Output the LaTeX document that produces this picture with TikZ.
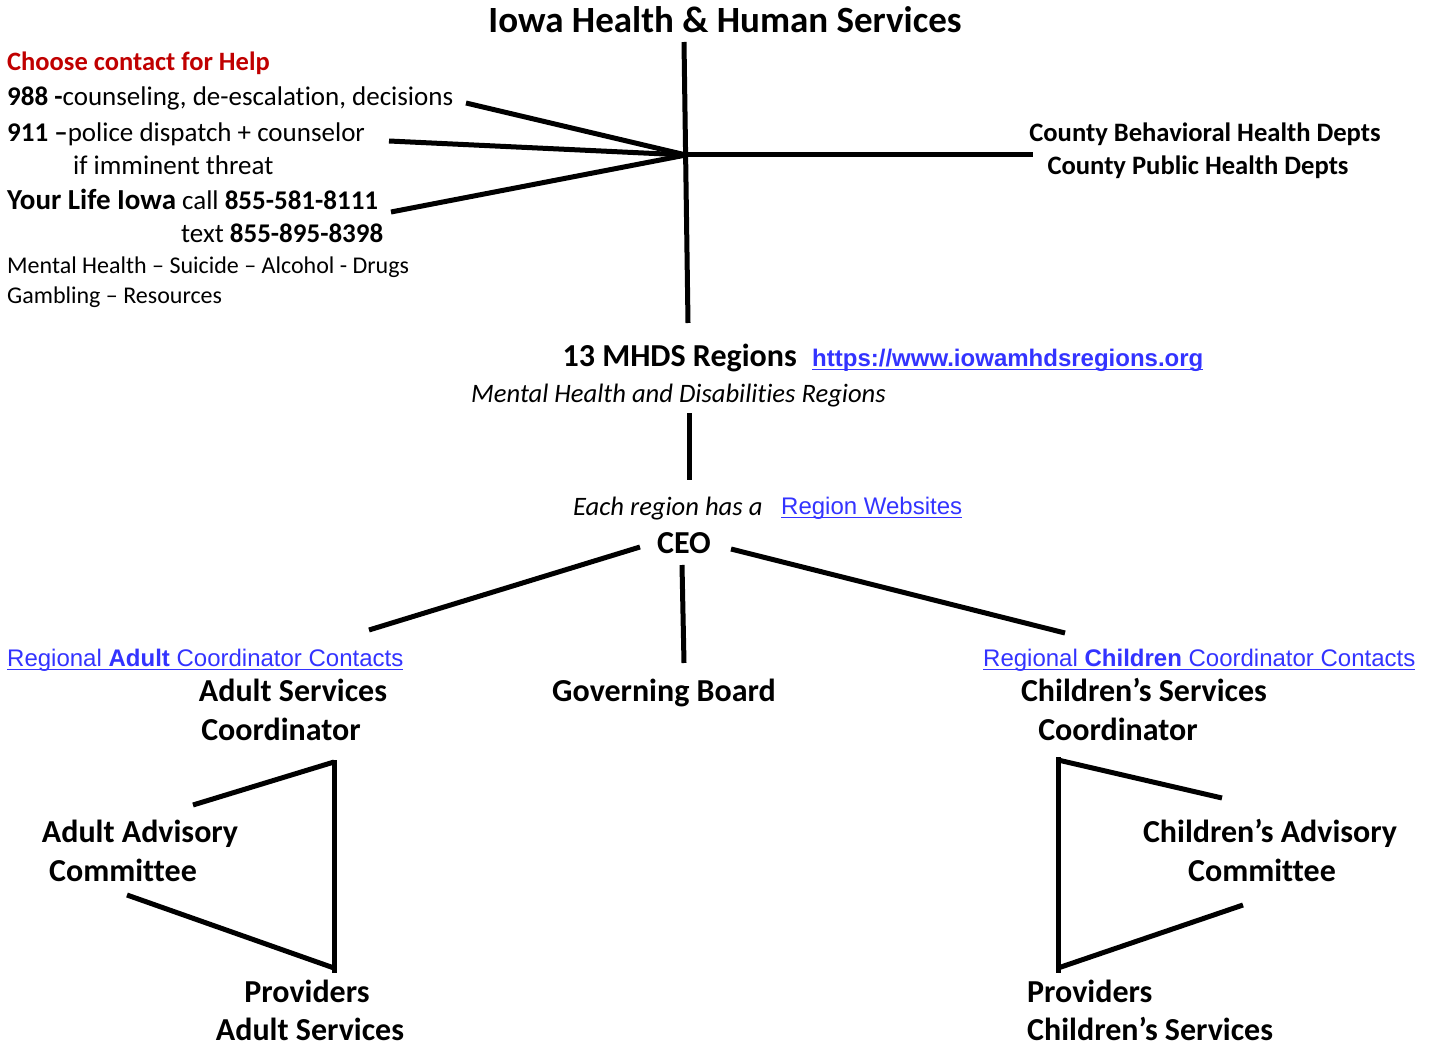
\documentclass[tikz,border=0pt]{standalone}
\usepackage{fontspec}
\setmainfont{Carlito}[Ligatures=NoCommon]
\newfontfamily\arialf{Liberation Sans}
\definecolor{hred}{RGB}{192,0,0}
\definecolor{lnkblue}{RGB}{51,51,255}
\newcommand\ulnk[1]{\setbox0\hbox{#1}\rlap{\rule[-4pt]{\wd0}{1.8pt}}\box0}
\tikzset{
  conn/.style={line width=5pt},
  big/.style={font=\bfseries\fontsize{32}{38}\selectfont, inner sep=0pt, anchor=mid},
  ttl/.style={font=\bfseries\fontsize{37}{44}\selectfont, inner sep=0pt, anchor=mid},
  side/.style={font=\fontsize{27}{32}\selectfont, inner sep=0pt, anchor=mid west},
  small/.style={font=\fontsize{24}{29}\selectfont, inner sep=0pt, anchor=mid west},
  cty/.style={font=\bfseries\fontsize{26.6}{31}\selectfont, inner sep=0pt, anchor=mid},
  ital/.style={font=\itshape\fontsize{26.6}{31}\selectfont, inner sep=0pt},
  link/.style={font=\arialf\fontsize{24}{29}\selectfont, text=lnkblue, inner sep=0pt},
}
\begin{document}
\begin{tikzpicture}[x=1pt,y=-1pt]
\useasboundingbox (0,0) rectangle (1433,1046);
% title and top hub
\node[ttl] (title) at (725,30) {Iowa Health \& Human Services};
\coordinate (hub) at (686,155);
\coordinate (vtop) at (684,42);
\coordinate (vbot) at (688,323);
\coordinate (hright) at (1033,155);
\coordinate (l988) at (466,103);
\coordinate (l911) at (389,141);
\coordinate (lyli) at (391,212);
\draw[conn] (vtop) -- (vbot);
\draw[conn] (hub) -- (hright);
\draw[conn] (l988) -- (hub);
\draw[conn] (l911) -- (hub);
\draw[conn] (lyli) -- (hub);
% left contact block
\node[side, text=hred, font=\bfseries\fontsize{26.5}{31}\selectfont] (choose) at (7,68) {Choose contact for Help};
\node[side] (t988) at (7,103) {\textbf{988 -}counseling, de-escalation, decisions};
\node[side] (t911) at (7,139) {\textbf{911 –}police dispatch + counselor};
\node[side] (t911b) at (73,172) {if imminent threat};
\node[side] (tyli) at (7,207) {{\bfseries\fontsize{29}{34}\selectfont Your Life Iowa} call \textbf{855-581-8111}};
\node[side] (tylib) at (181,240) {text \textbf{855-895-8398}};
\node[small] (tmh) at (7,271) {Mental Health – Suicide – Alcohol - Drugs};
\node[small] (tgam) at (7,301) {Gambling – Resources};
% county
\node[cty] (cbh) at (1205,139) {County Behavioral Health Depts};
\node[cty] (cph) at (1198,172) {County Public Health Depts};
% regions
\node[big, anchor=mid east] (mhds) at (797,364) {13 MHDS Regions};
\node[link, anchor=mid west, font=\arialf\bfseries\fontsize{24}{29}\selectfont] (mhdslink) at (812,364) {\ulnk{https://www.iowamhdsregions.org}};
\node[ital, anchor=mid west] (mhdsit) at (471,400) {Mental Health and Disabilities Regions};
\coordinate (r1) at (689,413);
\coordinate (r2) at (689,480);
\draw[conn] (r1) -- (r2);
\node[ital, anchor=mid west] (each) at (573,513) {Each region has a};
\node[link, anchor=mid west] (rweb) at (781,512) {\ulnk{Region Websites}};
\node[big] (ceo) at (684,551) {CEO};
\coordinate (c1) at (640,547);
\coordinate (c1e) at (369,630);
\coordinate (c2) at (682,565);
\coordinate (c2e) at (684,663);
\coordinate (c3) at (731,549);
\coordinate (c3e) at (1065,633);
\draw[conn] (c1) -- (c1e);
\draw[conn] (c2) -- (c2e);
\draw[conn] (c3) -- (c3e);
% second level
\node[link, anchor=mid west] (adlink) at (7,664) {\ulnk{Regional \textbf{Adult} Coordinator Contacts}};
\node[link, anchor=mid west] (chlink) at (983,664) {\ulnk{Regional \textbf{Children} Coordinator Contacts}};
\node[big] (gov) at (664,699) {Governing Board};
\node[big] (asc1) at (293,699) {Adult Services};
\node[big] (asc2) at (281,738) {Coordinator};
\node[big] (csc1) at (1144,699) {Children’s Services};
\node[big] (csc2) at (1118,738) {Coordinator};
% left triangle
\coordinate (la) at (334,760);
\coordinate (lb) at (334,973);
\coordinate (lc) at (193,805);
\coordinate (ld) at (127,895);
\coordinate (le) at (334,968);
\draw[conn] (la) -- (lb);
\draw[conn] (334,762) -- (lc);
\draw[conn] (ld) -- (le);
\node[big] (aac1) at (140,840) {Adult Advisory};
\node[big] (aac2) at (123,879) {Committee};
\node[big] (pa1) at (307,1000) {Providers};
\node[big] (pa2) at (310,1038) {Adult Services};
% right triangle
\coordinate (ra) at (1058,757);
\coordinate (rb) at (1058,973);
\coordinate (rc) at (1222,798);
\coordinate (rd) at (1243,905);
\coordinate (re) at (1058,968);
\draw[conn] (ra) -- (rb);
\draw[conn] (1058,760) -- (rc);
\draw[conn] (rd) -- (re);
\node[big] (cac1) at (1270,840) {Children’s Advisory};
\node[big] (cac2) at (1262,879) {Committee};
\node[big, anchor=mid west] (pc1) at (1027,1000) {Providers};
\node[big, anchor=mid west] (pc2) at (1027,1038) {Children’s Services};
\end{tikzpicture}
\end{document}
